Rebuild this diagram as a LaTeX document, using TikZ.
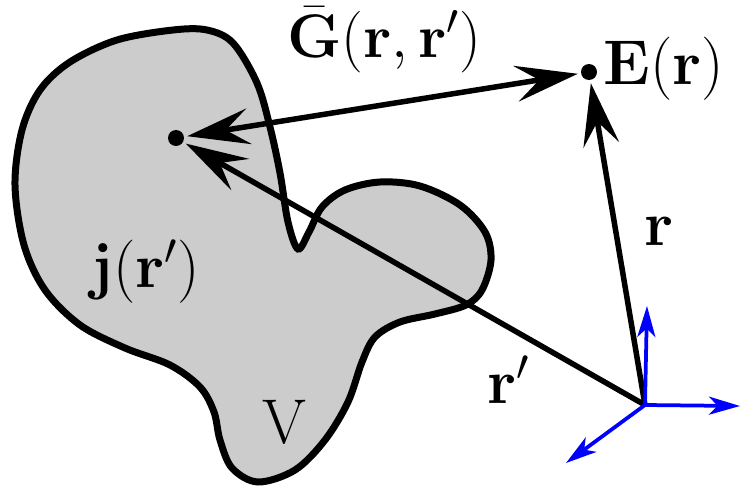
\RequirePackage{fix-cm}
\documentclass[tikz,border=0pt]{standalone}
\usetikzlibrary{arrows.meta}
\begin{document}
\begin{tikzpicture}[x=0.02cm,y=-0.02cm,
  lbl/.style={inner sep=0pt,anchor=base west,font=\fontsize{36}{43}\selectfont},
  dotnode/.style={circle,fill=black,inner sep=0pt,minimum size=0.32cm},
  tipb/.tip={Stealth[length=1.25cm,width=0.72cm,inset=0.47cm]},
  blackarr/.style={line width=0.11cm,-tipb,shorten >=0.06cm},
  bluearr/.style={line width=0.075cm,blue,-{Stealth[length=0.62cm,width=0.36cm,inset=0.17cm]}},
  blob/.style={line width=0.14cm,fill=black!20,draw=black}]
\useasboundingbox (0,0) rectangle (741,490);
% volume
\draw[blob] plot[smooth cycle,tension=0.55] coordinates {
(15,185) (22,130) (40,90) (70,62) (117,40) (173,30) (207,30) (233,43) (257,83) (270,127) (280,173) (288,222) (298,249) (309,232) (322,207) (345,190) (380,182) (420,186) (460,205) (485,232) (491,260) (482,290) (466,305) (435,314) (400,322) (375,337) (362,362) (348,402) (325,440) (295,470) (258,482) (232,468) (220,440) (214,412) (200,387) (170,365) (125,348) (80,325) (45,290) (24,245)};
% points
\node[dotnode] (src) at (176,138) {};
\node[dotnode] (obs) at (589,72) {};
\coordinate (O) at (645,405);
\coordinate (ex) at (740,406);
\coordinate (ey) at (647,306);
\coordinate (ez) at (566,463);
% vectors
\draw[blackarr] (O) -- (obs);
\draw[blackarr] (O) -- (src);
\draw[blackarr,tipb-tipb,shorten <=0.06cm] (src) -- (obs);
% axes
\draw[bluearr] (O) -- (ex);
\draw[bluearr] (O) -- (ey);
\draw[bluearr] (O) -- (ez);
% labels
\node[lbl,font=\fontsize{35}{42}\selectfont] (lg) at (287,57) {$\bar{\mathbf{G}}(\mathbf{r},\mathbf{r}')$};
\node[lbl] (le) at (603,84) {$\mathbf{E}(\mathbf{r})$};
\node[lbl] (lj) at (91,287) {$\mathbf{j}(\mathbf{r}')$};
\node[lbl] (lv) at (262,443) {$\mathrm{V}$};
\node[lbl] (lr) at (644,245) {$\mathbf{r}$};
\node[lbl] (lrp) at (487,403) {$\mathbf{r}'$};
\end{tikzpicture}
\end{document}
